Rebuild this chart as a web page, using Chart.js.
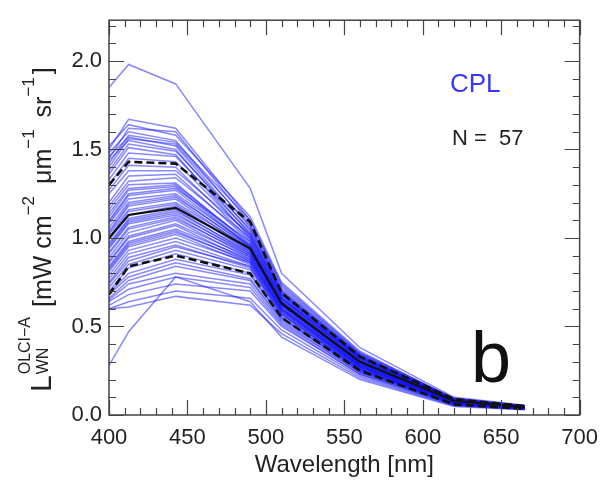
<!DOCTYPE html>
<html><head><meta charset="utf-8">
<script src="https://cdn.jsdelivr.net/npm/chart.js@4.4.1/dist/chart.umd.min.js"></script>
<style>html,body{margin:0;padding:0;background:#fff}#wrap{width:608px;height:482px}</style>
</head><body><div id="wrap"><canvas id="c" width="608" height="482"></canvas></div>
<script>
// OLCI band centres (nm)
const wavelengths = [400, 412.5, 442.5, 490, 510, 560, 620, 665];
// 57 individual LWN spectra (mW cm^-2 um^-1 sr^-1), values read/estimated from the figure
const spectra = [
  [1.85, 1.98, 1.87, 1.28, 0.80, 0.38, 0.100, 0.055],
  [1.50, 1.67, 1.62, 1.10, 0.73, 0.35, 0.095, 0.052],
  [1.52, 1.64, 1.58, 1.12, 0.75, 0.36, 0.090, 0.050],
  [1.45, 1.62, 1.60, 1.08, 0.72, 0.34, 0.090, 0.050],
  [1.48, 1.60, 1.55, 1.06, 0.70, 0.33, 0.088, 0.050],
  [1.42, 1.58, 1.54, 1.10, 0.74, 0.35, 0.092, 0.052],
  [1.46, 1.57, 1.52, 1.04, 0.69, 0.33, 0.085, 0.048],
  [1.40, 1.56, 1.53, 1.07, 0.71, 0.34, 0.090, 0.050],
  [1.44, 1.55, 1.50, 1.02, 0.68, 0.32, 0.085, 0.048],
  [1.38, 1.53, 1.49, 1.05, 0.70, 0.34, 0.088, 0.050],
  [1.36, 1.51, 1.47, 1.00, 0.67, 0.32, 0.084, 0.047],
  [1.33, 1.48, 1.46, 1.03, 0.69, 0.33, 0.087, 0.049],
  [1.30, 1.45, 1.43, 1.01, 0.68, 0.33, 0.086, 0.048],
  [1.27, 1.41, 1.40, 0.99, 0.66, 0.32, 0.083, 0.047],
  [1.25, 1.38, 1.38, 1.02, 0.68, 0.33, 0.085, 0.048],
  [1.20, 1.35, 1.36, 0.98, 0.66, 0.31, 0.082, 0.046],
  [1.18, 1.32, 1.34, 1.00, 0.67, 0.32, 0.084, 0.047],
  [1.16, 1.30, 1.31, 0.96, 0.65, 0.31, 0.080, 0.046],
  [1.14, 1.28, 1.30, 0.97, 0.66, 0.32, 0.082, 0.047],
  [1.12, 1.27, 1.29, 0.95, 0.64, 0.30, 0.079, 0.045],
  [1.10, 1.25, 1.28, 0.98, 0.66, 0.31, 0.081, 0.046],
  [1.09, 1.24, 1.27, 0.95, 0.64, 0.30, 0.079, 0.045],
  [1.08, 1.22, 1.25, 0.96, 0.65, 0.31, 0.080, 0.046],
  [1.06, 1.20, 1.24, 0.94, 0.63, 0.30, 0.078, 0.045],
  [1.04, 1.19, 1.23, 0.95, 0.64, 0.30, 0.079, 0.045],
  [1.03, 1.18, 1.22, 0.93, 0.63, 0.29, 0.077, 0.044],
  [1.02, 1.16, 1.20, 0.94, 0.64, 0.30, 0.078, 0.045],
  [1.00, 1.15, 1.19, 0.92, 0.62, 0.29, 0.076, 0.044],
  [0.99, 1.13, 1.18, 0.93, 0.63, 0.30, 0.077, 0.044],
  [0.97, 1.11, 1.16, 0.91, 0.62, 0.29, 0.075, 0.043],
  [0.96, 1.10, 1.15, 0.92, 0.62, 0.29, 0.076, 0.044],
  [0.95, 1.09, 1.14, 0.90, 0.61, 0.28, 0.074, 0.043],
  [0.94, 1.08, 1.13, 0.91, 0.62, 0.29, 0.075, 0.043],
  [0.92, 1.06, 1.12, 0.89, 0.60, 0.28, 0.073, 0.042],
  [0.91, 1.05, 1.11, 0.90, 0.61, 0.28, 0.074, 0.043],
  [0.89, 1.03, 1.10, 0.88, 0.60, 0.28, 0.072, 0.042],
  [0.87, 1.01, 1.08, 0.89, 0.60, 0.28, 0.073, 0.042],
  [0.86, 1.00, 1.07, 0.87, 0.59, 0.27, 0.071, 0.041],
  [0.84, 0.98, 1.05, 0.88, 0.60, 0.28, 0.072, 0.042],
  [0.83, 0.97, 1.04, 0.86, 0.59, 0.27, 0.070, 0.041],
  [0.82, 0.96, 1.03, 0.87, 0.59, 0.27, 0.071, 0.041],
  [0.81, 0.95, 1.02, 0.85, 0.58, 0.27, 0.070, 0.040],
  [0.79, 0.93, 1.00, 0.86, 0.58, 0.27, 0.070, 0.040],
  [0.77, 0.91, 0.98, 0.84, 0.57, 0.26, 0.068, 0.040],
  [0.75, 0.89, 0.96, 0.83, 0.57, 0.26, 0.068, 0.039],
  [0.74, 0.87, 0.95, 0.84, 0.57, 0.26, 0.068, 0.039],
  [0.72, 0.85, 0.93, 0.82, 0.56, 0.26, 0.067, 0.039],
  [0.70, 0.83, 0.91, 0.80, 0.55, 0.25, 0.065, 0.038],
  [0.69, 0.80, 0.88, 0.79, 0.55, 0.25, 0.065, 0.038],
  [0.68, 0.78, 0.86, 0.77, 0.54, 0.25, 0.064, 0.037],
  [0.66, 0.76, 0.84, 0.76, 0.53, 0.24, 0.063, 0.037],
  [0.65, 0.74, 0.80, 0.74, 0.52, 0.24, 0.062, 0.036],
  [0.64, 0.71, 0.78, 0.72, 0.51, 0.23, 0.060, 0.035],
  [0.62, 0.68, 0.74, 0.70, 0.50, 0.23, 0.058, 0.034],
  [0.60, 0.64, 0.70, 0.66, 0.48, 0.22, 0.055, 0.033],
  [0.60, 0.61, 0.67, 0.62, 0.46, 0.21, 0.052, 0.032],
  [0.28, 0.47, 0.78, 0.64, 0.44, 0.20, 0.048, 0.030]
];
const meanSpectrum = [1.00, 1.13, 1.17, 0.94, 0.63, 0.30, 0.080, 0.045];
const upperStd     = [1.30, 1.43, 1.42, 1.09, 0.69, 0.33, 0.090, 0.050];
const lowerStd     = [0.68, 0.84, 0.90, 0.80, 0.55, 0.25, 0.060, 0.035];
const xTicks = [400, 450, 500, 550, 600, 650, 700];
const yTicks = [0.0, 0.5, 1.0, 1.5, 2.0];
const xRange = [400, 700];
const yRange = [0, 2.23];
const siteLabel = 'CPL';
const countLabel = 'N =  57';
const panelLabel = 'b';

const FONT = "'Liberation Sans', Arial, Helvetica, sans-serif";
const toPts = arr => arr.map((v, i) => ({x: wavelengths[i], y: v}));

const datasets = [];
datasets.push({data: toPts(meanSpectrum), borderColor: '#111', borderWidth: 2.2, order: 0});
datasets.push({data: toPts(upperStd), borderColor: '#111', borderWidth: 2.6, borderDash: [8, 4], order: 0});
datasets.push({data: toPts(lowerStd), borderColor: '#111', borderWidth: 2.6, borderDash: [8, 4], order: 0});
spectra.forEach(s => datasets.push({data: toPts(s), borderColor: 'rgba(20,20,255,0.5)', borderWidth: 1.5, order: 1}));

const framePlugin = {
  id: 'frame',
  afterDatasetsDraw(chart) {
    const {ctx, chartArea: a, scales: {x, y}} = chart;
    ctx.save();
    ctx.strokeStyle = '#444';
    ctx.lineWidth = 1.5;
    ctx.strokeRect(a.left, a.top, a.right - a.left, a.bottom - a.top);
    ctx.lineWidth = 1.2;
    ctx.beginPath();
    for (let v = xRange[0]; v <= xRange[1] + 1e-6; v += 10) {
      const px = Math.round(x.getPixelForValue(v)) + 0.5;
      const len = (Math.abs(v % 50) < 1e-6) ? 15 : 7;
      ctx.moveTo(px, a.bottom); ctx.lineTo(px, a.bottom - len);
      ctx.moveTo(px, a.top); ctx.lineTo(px, a.top + len);
    }
    for (let k = 0; k <= 22; k++) {
      const v = k / 10;
      const py = Math.round(y.getPixelForValue(v)) + 0.5;
      const len = (k % 5 === 0) ? 15 : 7;
      ctx.moveTo(a.left, py); ctx.lineTo(a.left + len, py);
      ctx.moveTo(a.right, py); ctx.lineTo(a.right - len, py);
    }
    ctx.stroke();
    ctx.restore();
  },
  afterDraw(chart) {
    const {ctx, chartArea: a} = chart;
    ctx.save();
    ctx.textBaseline = 'alphabetic';
    // x title
    ctx.fillStyle = '#222';
    ctx.font = '24px ' + FONT;
    ctx.textAlign = 'center';
    ctx.fillText('Wavelength [nm]', (a.left + a.right) / 2, 472);
    // annotations
    ctx.textAlign = 'left';
    ctx.fillStyle = '#3636ff';
    ctx.font = '26px ' + FONT;
    ctx.fillText(siteLabel, 450, 92);
    ctx.fillStyle = '#222';
    ctx.font = '22px ' + FONT;
    ctx.fillText(countLabel, 452, 145);
    ctx.fillStyle = '#111';
    ctx.font = '72px ' + FONT;
    ctx.fillText(panelLabel, 471, 382);
    // y title (rotated)
    ctx.translate(51, 392);
    ctx.rotate(-Math.PI / 2);
    ctx.fillStyle = '#222';
    let cx = 0;
    const seg = (t, size, dy) => { ctx.font = size + 'px ' + FONT; ctx.fillText(t, cx, dy); return ctx.measureText(t).width; };
    cx += seg('L', 30, 0) + 1;
    const w1 = seg('OLCI\u2212A', 16, -21);
    const w2 = seg('WN', 16, -3);
    cx += Math.max(w1, w2) + 10;
    cx += seg('[mW cm', 25, 0);
    cx += seg('\u22122', 17, -17) + 5;
    cx += seg(' \u03bcm', 25, 0);
    cx += seg('\u22121', 17, -17) + 5;
    cx += seg(' sr', 25, 0);
    cx += seg('\u22121', 17, -17) + 3;
    cx += seg(']', 25, 0);
    ctx.restore();
  }
};

new Chart(document.getElementById('c'), {
  type: 'line',
  data: {datasets},
  options: {
    responsive: false,
    animation: false,
    devicePixelRatio: 1,
    layout: {padding: {top: 8, right: 19, left: 0, bottom: 0}},
    elements: {point: {radius: 0}, line: {tension: 0, fill: false}},
    plugins: {legend: {display: false}, tooltip: {enabled: false}},
    scales: {
      x: {
        type: 'linear', min: xRange[0], max: xRange[1],
        grid: {display: false, drawTicks: false}, border: {display: false},
        ticks: {font: {size: 22, family: FONT}, color: '#222', padding: 10, maxRotation: 0, autoSkip: false},
        afterBuildTicks: s => { s.ticks = xTicks.map(v => ({value: v})); },
        afterFit: s => { s.height = 67; }
      },
      y: {
        type: 'linear', min: yRange[0], max: yRange[1],
        grid: {display: false, drawTicks: false}, border: {display: false},
        ticks: {font: {size: 22, family: FONT}, color: '#222', padding: 7, callback: v => Number(v).toFixed(1)},
        afterBuildTicks: s => { s.ticks = yTicks.map(v => ({value: v})); },
        afterFit: s => { s.width = 109; }
      }
    }
  },
  plugins: [framePlugin]
});
</script>
</body></html>
